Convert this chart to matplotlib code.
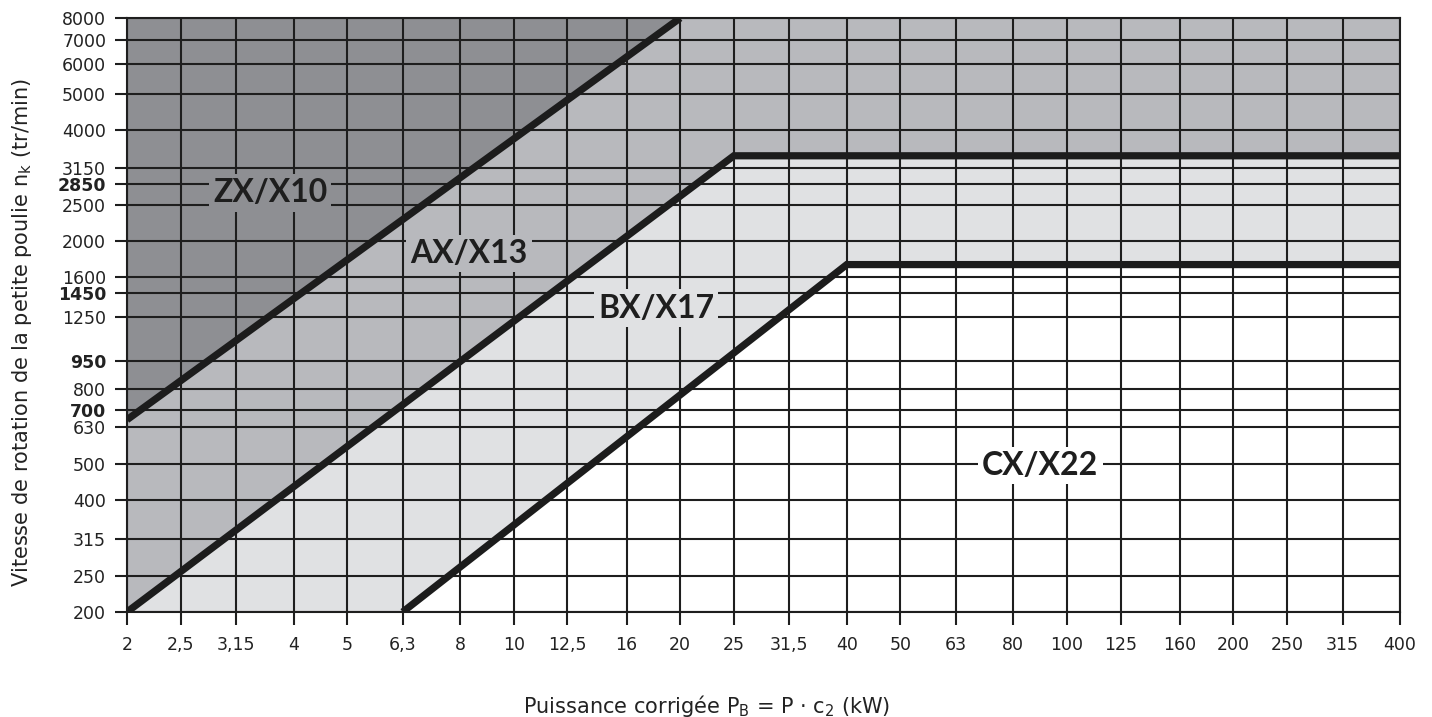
import matplotlib
matplotlib.use("Agg")
import matplotlib.pyplot as plt
from matplotlib.ticker import NullLocator, FixedLocator, FixedFormatter

plt.rcParams['font.family'] = ['DejaVu Sans']

# x ticks (power, kW) and y ticks (speed, tr/min)
x_ticks = [2, 2.5, 3.15, 4, 5, 6.3, 8, 10, 12.5, 16, 20, 25, 31.5, 40, 50,
           63, 80, 100, 125, 160, 200, 250, 315, 400]
x_labels = ["2", "2,5", "3,15", "4", "5", "6,3", "8", "10", "12,5", "16", "20",
            "25", "31,5", "40", "50", "63", "80", "100", "125", "160", "200",
            "250", "315", "400"]
y_ticks = [200, 250, 315, 400, 500, 630, 700, 800, 950, 1250, 1450, 1600,
           2000, 2500, 2850, 3150, 4000, 5000, 6000, 7000, 8000]
y_bold = [700, 950, 1450, 2850]

# boundary lines between belt profiles
zx_ax_x = [2, 20]
zx_ax_y = [660, 8000]
ax_bx_x = [2, 25, 400]
ax_bx_y = [200, 3400, 3400]
bx_cx_x = [6.3, 40, 400]
bx_cx_y = [200, 1730, 1730]

# profile labels
profiles = ["ZX/X10", "AX/X13", "BX/X17", "CX/X22"]
label_x = [3.63, 8.3, 18.1, 89.5]
label_y = [2700, 1850, 1320, 496]

col_zx = "#8e8f93"
col_ax = "#b8b9bd"
col_bx = "#e0e1e3"
col_cx = "#ffffff"
label_bg = [col_zx, col_ax, col_bx, col_cx]

fig = plt.figure(figsize=(14.32, 7.17), dpi=100)
ax = fig.add_axes([127/1432, 1 - 612/717, (1400 - 127)/1432, (612 - 18)/717])
ax.set_xscale("log")
ax.set_yscale("log")
ax.set_xlim(2, 400)
ax.set_ylim(200, 8000)
ax.set_facecolor(col_ax)

# shaded regions
ax.fill_between(ax_bx_x, 200, ax_bx_y, color=col_bx, lw=0, zorder=1)
ax.fill_between(bx_cx_x, 200, bx_cx_y, color=col_cx, lw=0, zorder=1.1)
ax.fill_between(zx_ax_x, zx_ax_y, 8000, color=col_zx, lw=0, zorder=1.2)

# boundary lines
for xs, ys in [(zx_ax_x, zx_ax_y), (ax_bx_x, ax_bx_y), (bx_cx_x, bx_cx_y)]:
    ax.plot(xs, ys, color="#1c1c1c", lw=5.2, solid_capstyle="butt",
            solid_joinstyle="miter", zorder=3)

# ticks and grid
ax.xaxis.set_major_locator(FixedLocator(x_ticks))
ax.xaxis.set_major_formatter(FixedFormatter(x_labels))
ax.xaxis.set_minor_locator(NullLocator())
ax.yaxis.set_major_locator(FixedLocator(y_ticks))
ax.yaxis.set_major_formatter(FixedFormatter([str(v) for v in y_ticks]))
ax.yaxis.set_minor_locator(NullLocator())
ax.set_axisbelow(False)
ax.grid(True, color="#1e1e1e", lw=1.5)
ax.tick_params(axis="both", direction="out", color="#1e1e1e", width=1.5,
               labelsize=12.5, labelcolor="#222222")
ax.tick_params(axis="x", length=9, pad=8)
ax.tick_params(axis="y", length=9, pad=6)
for lab, v in zip(ax.get_yticklabels(), y_ticks):
    if v in y_bold:
        lab.set_fontweight("bold")
for s in ax.spines.values():
    s.set_color("#1e1e1e")
    s.set_linewidth(1.5)

# profile labels
for name, lx, ly, bg in zip(profiles, label_x, label_y, label_bg):
    ax.text(lx, ly, name, fontsize=23, fontweight="bold", color="#1e1e1e",
            family=["Lato", "DejaVu Sans"],
            ha="center", va="center", zorder=4,
            bbox=dict(facecolor=bg, edgecolor="none", pad=3))

fig.text(707/1432, 1 - 706/717, "Puissance corrigée P$_\\mathregular{B}$ = P · c$_\\mathregular{2}$ (kW)",
         ha="center", va="center", fontsize=15, color="#222222")
fig.text(22/1432, 1 - 333/717, "Vitesse de rotation de la petite poulie n$_\\mathregular{k}$ (tr/min)",
         ha="center", va="center", rotation=90, fontsize=15, color="#222222")

fig.savefig("out.png", dpi=100)
